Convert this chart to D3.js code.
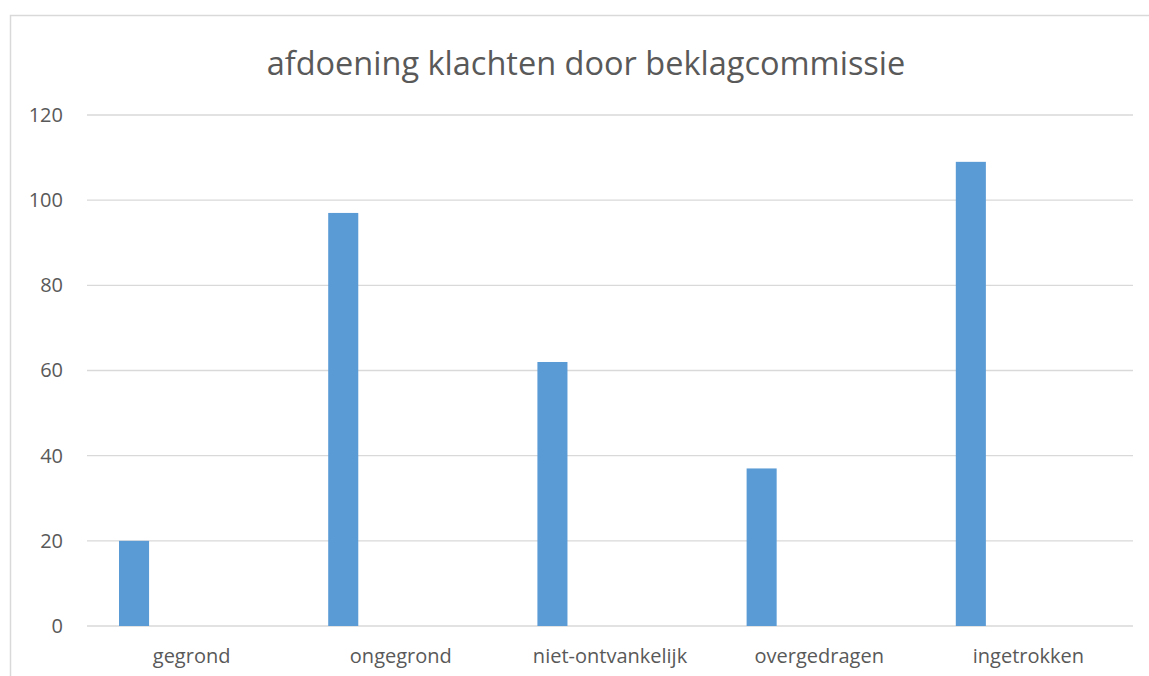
<!DOCTYPE html>
<html>
<head>
<meta charset="utf-8">
<script src="https://cdn.jsdelivr.net/npm/d3@7"></script>
<style>
  body { margin: 0; background: #fff; }
  svg { display: block; font-family: 'Open Sans', sans-serif; }
</style>
</head>
<body>
<div class="chart"></div>
<script>
// chart data
var categories = ['gegrond', 'ongegrond', 'niet-ontvankelijk', 'overgedragen', 'ingetrokken'];
var values = [20, 97, 62, 37, 109];
var yTicks = [0, 20, 40, 60, 80, 100, 120];
var title = 'afdoening klachten door beklagcommissie';

var width = 1149;
var height = 676;
var plotLeft = 87;
var plotRight = 1133;
var plotTop = 115;
var plotBottom = 626;

var svg = d3.select('.chart').append('svg')
  .attr('width', width)
  .attr('height', height);

// chart area border (runs off the bottom / right edge)
svg.append('rect')
  .attr('x', 10.5)
  .attr('y', 15.5)
  .attr('width', 1160)
  .attr('height', 700)
  .attr('fill', '#fff')
  .attr('stroke', '#d9d9d9')
  .attr('stroke-width', 1.5);

var xScale = d3.scaleBand()
  .domain(categories)
  .range([plotLeft, plotRight]);

var yScale = d3.scaleLinear()
  .domain([0, 120])
  .range([plotBottom, plotTop]);

// gridlines
svg.append('g')
  .selectAll('line')
  .data(yTicks)
  .enter()
  .append('line')
  .attr('x1', plotLeft)
  .attr('x2', plotRight)
  .attr('y1', function(d) { return yScale(d); })
  .attr('y2', function(d) { return yScale(d); })
  .attr('stroke', '#d9d9d9')
  .attr('stroke-width', 1.3);

// y axis labels
var yAxis = d3.axisLeft(yScale)
  .tickValues(yTicks)
  .tickSize(0)
  .tickPadding(24);
var yG = svg.append('g')
  .attr('transform', 'translate(' + plotLeft + ',0)')
  .call(yAxis);
yG.select('.domain').remove();
yG.selectAll('text')
  .attr('fill', '#595959')
  .style('font-size', '20px')
  .style('font-family', "'Open Sans', sans-serif");

// bars: first of five series slots in each category (Excel-style gap)
var barWidth = xScale.bandwidth() * 0.1437;
var barOffset = xScale.bandwidth() * 0.153;
svg.selectAll('.bar')
  .data(values)
  .enter()
  .append('rect')
  .attr('class', 'bar')
  .attr('x', function(d, i) { return xScale(categories[i]) + barOffset; })
  .attr('y', function(d) { return yScale(d); })
  .attr('width', barWidth)
  .attr('height', function(d) { return yScale(0) - yScale(d); })
  .attr('fill', '#5b9bd5');

// x axis labels
var xAxis = d3.axisBottom(xScale)
  .tickSize(0)
  .tickPadding(23);
var xG = svg.append('g')
  .attr('transform', 'translate(0,' + plotBottom + ')')
  .call(xAxis);
xG.select('.domain').remove();
xG.selectAll('text')
  .attr('fill', '#595959')
  .style('font-size', '20px')
  .style('font-family', "'Open Sans', sans-serif");

// title
svg.append('text')
  .attr('x', 586)
  .attr('y', 75)
  .style('text-anchor', 'middle')
  .style('font-size', '32.5px')
  .attr('fill', '#595959')
  .text(title);
</script>
</body>
</html>
